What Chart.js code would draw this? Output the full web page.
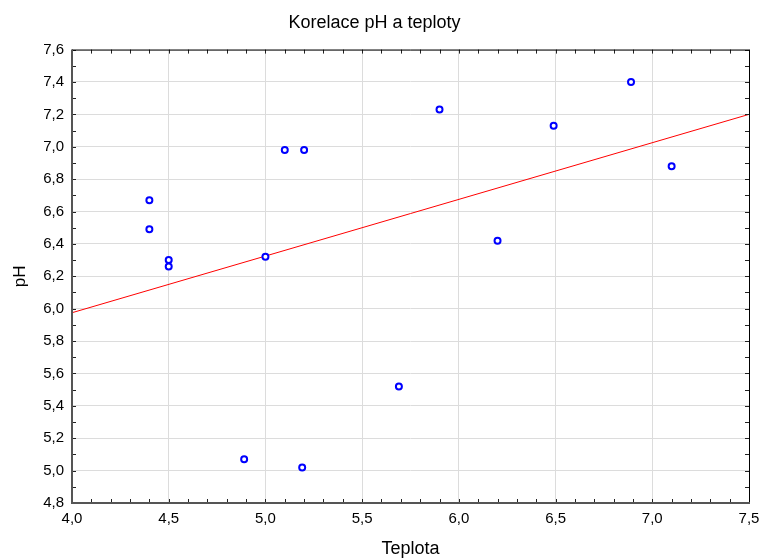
<!DOCTYPE html>
<html>
<head>
<meta charset="utf-8">
<script src="https://cdn.jsdelivr.net/npm/chart.js@4.4.0/dist/chart.umd.min.js"></script>
<style>
  body { margin: 0; background: #fff; }
  #wrap { width: 760px; height: 560px; }
</style>
</head>
<body>
<div id="wrap"><canvas id="myChart" width="760" height="560"></canvas></div>
<script>
// teplota vs pH
const teplota = [4.4, 4.4, 4.5, 4.5, 5.0, 4.89, 5.1, 5.2, 5.19, 5.69, 5.9, 6.2, 6.49, 6.89, 7.1];
const phValues = [6.67, 6.49, 6.3, 6.26, 6.32, 5.07, 6.98, 6.98, 5.02, 5.52, 7.23, 6.42, 7.13, 7.4, 6.88];

// regression line end points
const fitX = [4.0, 7.5];
const fitY = [5.975, 7.2];

let points = teplota.map((t, i) => ({ x: t, y: phValues[i] }));
let fitLine = fitX.map((t, i) => ({ x: t, y: fitY[i] }));

let fontName = "'Liberation Sans', Arial, sans-serif";

// frame + inward minor ticks
let framePlugin = {
  id: 'frame',
  afterDraw(chart) {
    let c = chart.ctx;
    let a = chart.chartArea;
    let xs = chart.scales.x;
    let ys = chart.scales.y;
    c.save();
    c.strokeStyle = '#222';
    c.lineWidth = 1;
    c.beginPath();
    for (let v = 40; v <= 75; v++) {
      let px = Math.round(xs.getPixelForValue(v / 10)) + 0.5;
      c.moveTo(px, a.bottom); c.lineTo(px, a.bottom - 4);
      c.moveTo(px, a.top); c.lineTo(px, a.top + 4);
    }
    for (let v = 48; v <= 76; v++) {
      let py = Math.round(ys.getPixelForValue(v / 10)) + 0.5;
      c.moveTo(a.left, py); c.lineTo(a.left + 4, py);
      c.moveTo(a.right, py); c.lineTo(a.right - 4, py);
    }
    c.stroke();
    c.strokeStyle = '#000';
    c.beginPath();
    c.moveTo(a.left, a.top + 0.5); c.lineTo(a.right + 0.5, a.top + 0.5);
    c.lineTo(a.right + 0.5, a.bottom);
    c.stroke();
    c.strokeStyle = '#555';
    c.lineWidth = 2;
    c.beginPath();
    c.moveTo(a.left, a.top); c.lineTo(a.left, a.bottom);
    c.lineTo(a.right + 1, a.bottom);
    c.stroke();
    c.restore();
  }
};

let ctx = document.getElementById('myChart').getContext('2d');
let chart = new Chart(ctx, {
  type: 'scatter',
  data: {
    datasets: [{
      label: 'body',
      data: points,
      pointRadius: 3,
      pointBorderWidth: 2,
      pointBorderColor: '#0000ff',
      pointBackgroundColor: '#ffffff',
      order: 1
    }, {
      label: 'regrese',
      type: 'line',
      data: fitLine,
      borderColor: '#ff0000',
      borderWidth: 1,
      pointRadius: 0,
      fill: false,
      order: 2
    }]
  },
  plugins: [framePlugin],
  options: {
    responsive: false,
    animation: false,
    layout: { padding: { left: 0, right: 11, top: 0, bottom: 0 } },
    plugins: {
      legend: { display: false },
      tooltip: { enabled: false },
      title: {
        display: true,
        text: 'Korelace pH a teploty',
        color: '#000',
        font: { family: fontName, size: 18, weight: 'normal' },
        padding: { top: 12, bottom: 16 }
      }
    },
    scales: {
      x: {
        type: 'linear',
        min: 4.0,
        max: 7.5,
        border: { display: false },
        grid: { color: '#dcdcdc', drawTicks: false },
        ticks: {
          stepSize: 0.5,
          padding: 7,
          color: '#000',
          font: { family: fontName, size: 15 },
          callback: (v) => v.toFixed(1).replace('.', ',')
        },
        title: {
          display: true,
          text: 'Teplota',
          color: '#000',
          font: { family: fontName, size: 18 },
          padding: { top: 0, bottom: 0 }
        },
        afterFit: (s) => { s.height = 57; s.paddingLeft = 0; s.paddingRight = 0; }
      },
      y: {
        type: 'linear',
        min: 4.8,
        max: 7.6,
        border: { display: false },
        grid: { color: '#dcdcdc', drawTicks: false },
        ticks: {
          stepSize: 0.2,
          padding: 8,
          color: '#000',
          font: { family: fontName, size: 15 },
          callback: (v) => v.toFixed(1).replace('.', ',')
        },
        title: {
          display: true,
          text: 'pH',
          color: '#000',
          font: { family: fontName, size: 17 },
          padding: { top: 10, bottom: 0 }
        },
        afterFit: (s) => { s.width = 72; }
      }
    }
  }
});
</script>
</body>
</html>
